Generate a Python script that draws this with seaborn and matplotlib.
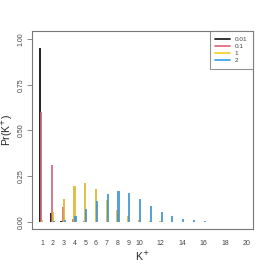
import pandas as pd
import seaborn as sns
import matplotlib
matplotlib.use('Agg')
import matplotlib.pyplot as plt
from matplotlib.lines import Line2D

# K+ values and Pr(K+) for each prior setting
k_vals = list(range(1, 17))
p_001 = [0.950, 0.047, 0.003, 0, 0, 0, 0, 0, 0, 0, 0, 0, 0, 0, 0, 0]
p_01 = [0.598, 0.311, 0.078, 0.014, 0.004, 0, 0, 0, 0, 0, 0, 0, 0, 0, 0, 0]
p_1 = [0.011, 0.051, 0.126, 0.197, 0.213, 0.179, 0.120, 0.066, 0.033, 0.011, 0.005, 0.002, 0, 0, 0, 0]
p_2 = [0.001, 0.005, 0.011, 0.033, 0.067, 0.115, 0.153, 0.166, 0.155, 0.125, 0.087, 0.053, 0.029, 0.015, 0.007, 0.004]
labels = ['0.01', '0.1', '1', '2']
colors = ['#000000', '#DF536B', '#F5C710', '#2297E6']
offsets = [-0.2, -0.1, 0.0, 0.1]

xtick_pos = [1, 2, 3, 4, 5, 6, 7, 8, 9, 10, 12, 14, 16, 18, 20]
ytick_pos = [0, 0.25, 0.5, 0.75, 1.0]

rows = []
for lab, vals in zip(labels, [p_001, p_01, p_1, p_2]):
    for k, p in zip(k_vals, vals):
        rows.append({'alpha': lab, 'K': k, 'p': p})
df = pd.DataFrame(rows)

sns.set_style('white')
plt.rcParams['font.family'] = ['Liberation Sans', 'DejaVu Sans']

fig = plt.figure(figsize=(2.69, 2.69), dpi=100)
ax = fig.add_axes([32/269, 40/269, 221/269, 198/269])

for lab, col, off in zip(labels, colors, offsets):
    sub = df[df['alpha'] == lab].copy()
    sub['x'] = sub['K'] + off
    sns.barplot(data=sub, x='x', y='p', native_scale=True, width=0.2,
                color=col, alpha=0.85, linewidth=0, errorbar=None, ax=ax)

ax.set_xlim(0.05, 20.6)
ax.set_ylim(-0.04, 1.044)
ax.set_xticks(xtick_pos)
ax.set_xticklabels([str(x) for x in xtick_pos])
ax.set_yticks(ytick_pos)
ax.set_yticklabels(['0.00', '0.25', '0.50', '0.75', '1.00'], rotation=90, va='center')
ax.tick_params(axis='x', length=0, pad=8, labelsize=5, labelcolor='#444444')
ax.tick_params(axis='y', left=True, length=3.6, width=0.6, color='#777777',
               direction='out', pad=1.5, labelsize=5, labelcolor='#444444')
for s in ax.spines.values():
    s.set_visible(True)
    s.set_color('#777777')
    s.set_linewidth(0.8)

ax.set_xlabel('K$^{+}$', fontsize=7.5, color='#222222', labelpad=2)
ax.set_ylabel('Pr(K$^{+}$)', fontsize=7.5, color='#222222')
ax.yaxis.set_label_coords(-0.075, 0.5)

handles = [Line2D([0], [0], color=c, lw=1.3, alpha=0.85) for c in colors]
leg = ax.legend(handles, labels, loc='upper right', fontsize=4.6, frameon=True,
                fancybox=False, borderaxespad=0, handlelength=2.2,
                handletextpad=0.8, labelspacing=0.25, borderpad=0.9)
leg.get_frame().set_edgecolor('#777777')
leg.get_frame().set_linewidth(0.8)
for t in leg.get_texts():
    t.set_color('#444444')

fig.savefig('out.png', dpi=100)
